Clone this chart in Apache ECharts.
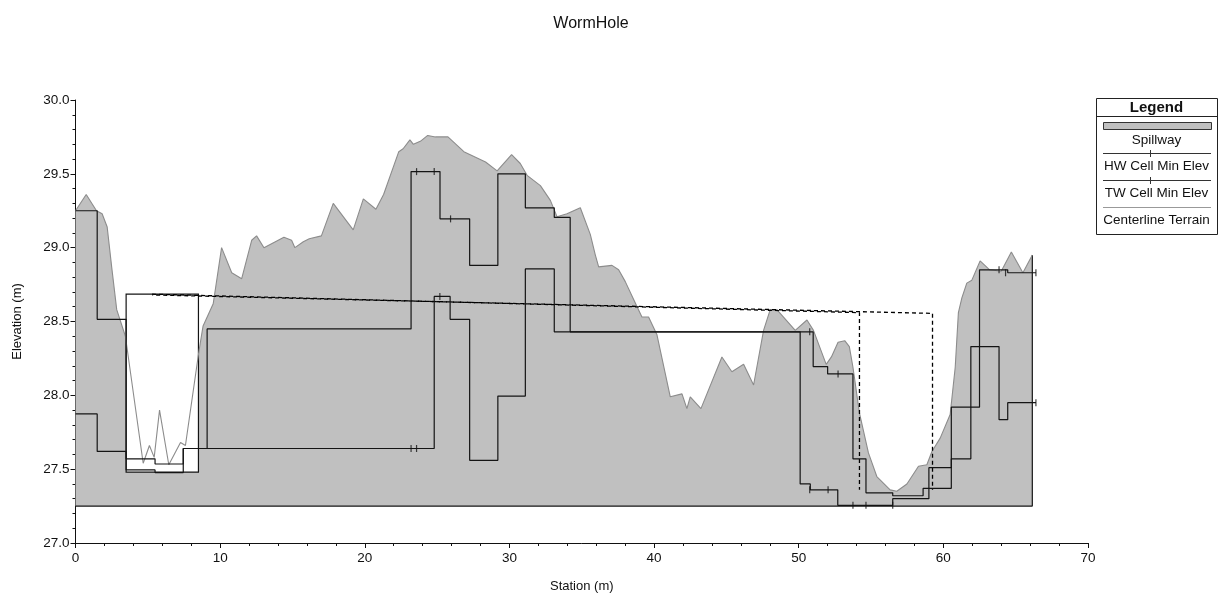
<!DOCTYPE html>
<html>
<head>
<meta charset="utf-8">
<script src="https://cdn.jsdelivr.net/npm/echarts@6/dist/echarts.min.js"></script>
<style>
html,body{margin:0;padding:0;background:#fff;}
#chart{width:1221px;height:594px;}
</style>
</head>
<body>
<div id="chart"></div>
<script>
// ---------------- DATA ----------------
const chartTitle = 'WormHole';
const xAxisName = 'Station (m)';
const yAxisName = 'Elevation (m)';
const seriesNames = ['Spillway', 'HW Cell Min Elev', 'TW Cell Min Elev', 'Centerline Terrain'];

// Centerline terrain (station, elevation)
const terrainStation = [0, 0.74, 1.45, 1.84, 2.19, 2.5, 2.85, 3.45, 4.68, 5.11, 5.44, 5.81, 6.45, 7.26, 7.6, 8.52, 8.82, 9.52,
  10.1, 10.8, 11.49, 12.18, 12.52, 13.03, 14.41, 14.94, 15.17, 15.75, 16.16, 17.0, 17.82, 19.2, 19.9, 20.77, 21.3,
  22.35, 22.65, 23.12, 23.36, 23.84, 24.35, 24.88, 25.75, 26.85, 28.35, 29.15, 30.15, 30.75, 31.22, 32.14, 32.83,
  33.29, 33.98, 34.9, 35.59, 35.94, 36.17, 37.09, 37.55, 38.01, 38.58, 39.16, 39.62, 40.2, 41.12, 41.93, 42.27,
  42.5, 43.24, 44.69, 45.38, 46.19, 46.88, 47.57, 48.03, 48.49, 49.76, 50.57, 51.02, 51.9, 52.26, 52.72, 53.18,
  53.5, 53.75, 54.2, 54.82, 55.4, 56.32, 56.78, 57.48, 58.28, 58.86, 59.21, 59.78, 60.47, 60.82, 61.04, 61.28,
  61.62, 61.97, 62.54, 63.2, 64.0, 64.7, 65.5, 66.15];
const terrainElev = [29.25, 29.36, 29.25, 29.23, 29.14, 28.87, 28.58, 28.40, 27.54, 27.66, 27.58, 27.90, 27.53, 27.68, 27.66, 28.29, 28.47, 28.62,
  29.0, 28.83, 28.79, 29.05, 29.08, 29.0, 29.07, 29.05, 29.0, 29.04, 29.06, 29.08, 29.30, 29.12, 29.33, 29.26, 29.36,
  29.65, 29.67, 29.73, 29.70, 29.72, 29.76, 29.75, 29.75, 29.65, 29.58, 29.52, 29.63, 29.57, 29.49, 29.42, 29.32,
  29.21, 29.23, 29.27, 29.09, 28.95, 28.87, 28.88, 28.85, 28.77, 28.65, 28.53, 28.53, 28.41, 27.99, 28.01, 27.91,
  27.99, 27.91, 28.26, 28.16, 28.21, 28.07, 28.44, 28.58, 28.58, 28.44, 28.51, 28.44, 28.21, 28.26, 28.36, 28.37,
  28.33, 28.19, 27.88, 27.61, 27.45, 27.36, 27.35, 27.40, 27.52, 27.53, 27.62, 27.71, 27.87, 28.19, 28.56, 28.66,
  28.76, 28.78, 28.91, 28.85, 28.84, 28.97, 28.83, 28.95];

// Spillway polygon base
const spillwayBaseElev = 27.25;
const spillwayEndStation = 66.15;

// HW cell minimum elevation steps
const hwStation = [0, 1.5, 1.5, 3.5, 3.5, 5.5, 5.5, 7.45, 7.45, 9.1, 9.1, 23.2, 23.2, 25.2, 25.2, 27.25, 27.25, 29.2, 29.2,
  31.1, 31.1, 33.1, 33.1, 34.2, 34.2, 51.0, 51.0, 52.0, 52.0, 53.75, 53.75, 54.65, 54.65, 56.5, 56.5, 58.6, 58.6,
  60.55, 60.55, 62.5, 62.5, 64.45, 64.45, 66.4];
const hwElev = [29.25, 29.25, 28.515, 28.515, 27.57, 27.57, 27.535, 27.535, 27.64, 27.64, 28.45, 28.45, 29.515, 29.515, 29.195, 29.195, 28.88, 28.88, 29.50,
  29.50, 29.27, 29.27, 29.205, 29.205, 28.43, 28.43, 28.195, 28.195, 28.145, 28.145, 27.57, 27.57, 27.34, 27.34, 27.32, 27.32, 27.37,
  27.37, 27.92, 27.92, 28.85, 28.85, 28.83, 28.83];

// TW cell minimum elevation steps
const twStation = [0, 1.5, 1.5, 3.5, 3.5, 5.5, 5.5, 7.45, 7.45, 24.8, 24.8, 25.9, 25.9, 27.25, 27.25, 29.2, 29.2, 31.1,
  31.1, 33.1, 33.1, 50.1, 50.1, 50.8, 50.8, 52.7, 52.7, 56.5, 56.5, 59.0, 59.0, 60.55, 60.55, 61.9, 61.9, 63.85,
  63.85, 64.45, 64.45, 66.4];
const twElev = [27.874, 27.874, 27.62, 27.62, 27.495, 27.495, 27.477, 27.477, 27.64, 27.64, 28.67, 28.67, 28.515, 28.515, 27.56, 27.56, 27.995, 27.995,
  28.856, 28.856, 28.43, 28.43, 27.40, 27.40, 27.36, 27.36, 27.255, 27.255, 27.30, 27.30, 27.51, 27.51, 27.57, 27.57, 28.33, 28.33,
  27.835, 27.835, 27.95, 27.95];

// tick marks along the cell lines
const hwTickStation = [23.58, 24.8, 25.93, 50.76, 52.72, 63.85, 64.3, 66.4];
const hwTickElev = [29.515, 29.515, 29.195, 28.43, 28.145, 28.85, 28.83, 28.83];
const twTickStation = [23.2, 23.58, 25.19, 50.76, 52.03, 53.75, 54.65, 56.5, 66.4];
const twTickElev = [27.64, 27.64, 28.67, 27.36, 27.36, 27.255, 27.255, 27.255, 27.95];

// culvert opening (white box)
const boxStation = [3.5, 8.5];
const boxElev = [27.48, 28.685];

// dashed outlines
const dashAStation = [5.3, 54.2, 54.2];
const dashAElev = [28.685, 28.56, 27.36];
const dashBStation = [5.3, 59.25, 59.25];
const dashBElev = [28.68, 28.555, 27.36];

// axis ticks
const xMin = 0, xMax = 70, xStep = 10;
const yMin = 27, yMax = 30, yStep = 0.5;

// ---------------- BUILD ----------------
const zip = (a, b) => a.map((v, i) => [v, b[i]]);
const terrainPts = zip(terrainStation, terrainElev);
const spillwayPoly = [[terrainStation[0], spillwayBaseElev]].concat(terrainPts, [[spillwayEndStation, spillwayBaseElev]]);
const boxPoly = [[boxStation[0], boxElev[0]], [boxStation[1], boxElev[0]], [boxStation[1], boxElev[1]], [boxStation[0], boxElev[1]]];

function polySeries(pts, style) {
  return {
    type: 'custom', coordinateSystem: 'cartesian2d', silent: true, data: [[pts[0][0], pts[0][1]]],
    renderItem: (params, api) => ({
      type: 'polygon',
      shape: { points: pts.map(p => api.coord(p)) },
      style: style
    })
  };
}
const lineColor = '#141414';
const FONT = '"Liberation Sans", Arial, sans-serif';
const chart = echarts.init(document.getElementById('chart'), null, { renderer: 'canvas' });

const L = { x0: 1096, x1: 1217, y0: 98, y1: 234 };
const lx0 = 1103, lx1 = 1211, lmid = 1150;
const cx = (L.x0 + L.x1) / 2;
const legendText = (t, y) => ({ type: 'text', style: { text: t, x: cx, y: y, textAlign: 'center', textVerticalAlign: 'middle', font: '13.5px ' + FONT, fill: '#111' } });
const legendGraphics = [
  { type: 'rect', shape: { x: L.x0 + 0.5, y: L.y0 + 0.5, width: L.x1 - L.x0, height: L.y1 - L.y0 }, style: { fill: '#fff', stroke: '#222', lineWidth: 1 } },
  { type: 'text', style: { text: 'Legend', x: cx, y: 107.5, textAlign: 'center', textVerticalAlign: 'middle', font: 'bold 15px ' + FONT, fill: '#111' } },
  { type: 'line', shape: { x1: L.x0, y1: 116.5, x2: L.x1, y2: 116.5 }, style: { stroke: '#222', lineWidth: 1 } },
  { type: 'rect', shape: { x: lx0 + 0.5, y: 122.5, width: lx1 - lx0, height: 7 }, style: { fill: '#c0c0c0', stroke: '#333', lineWidth: 1 } },
  legendText(seriesNames[0], 140),
  { type: 'line', shape: { x1: lx0, y1: 153.5, x2: lx1, y2: 153.5 }, style: { stroke: '#333', lineWidth: 1 } },
  { type: 'line', shape: { x1: lmid + 0.5, y1: 150, x2: lmid + 0.5, y2: 157 }, style: { stroke: '#333', lineWidth: 1 } },
  legendText(seriesNames[1], 166.5),
  { type: 'line', shape: { x1: lx0, y1: 180.5, x2: lx1, y2: 180.5 }, style: { stroke: '#333', lineWidth: 1 } },
  { type: 'line', shape: { x1: lmid + 0.5, y1: 177, x2: lmid + 0.5, y2: 184 }, style: { stroke: '#333', lineWidth: 1 } },
  legendText(seriesNames[2], 193.5),
  { type: 'line', shape: { x1: lx0, y1: 207.5, x2: lx1, y2: 207.5 }, style: { stroke: '#999', lineWidth: 1 } },
  legendText(seriesNames[3], 220.5)
];

const option = {
  animation: false,
  backgroundColor: '#fff',
  title: { text: chartTitle, left: 586, top: 11, textAlign: 'center', textStyle: { fontSize: 16, fontWeight: 'normal', color: '#111', fontFamily: FONT } },
  grid: { left: 75.5, right: 133, top: 100, bottom: 51, containLabel: false, outerBoundsMode: 'none' },
  xAxis: {
    type: 'value', min: xMin, max: xMax, interval: xStep,
    name: xAxisName, nameLocation: 'middle', nameGap: 37,
    nameTextStyle: { fontSize: 13, color: '#111', fontFamily: FONT },
    axisLine: { show: true, lineStyle: { color: '#111', width: 1 } },
    axisTick: { show: true, length: 5, lineStyle: { color: '#111' } },
    minorTick: { show: true, splitNumber: 5, length: 3, lineStyle: { color: '#111' } },
    axisLabel: { fontSize: 13.5, color: '#111', margin: 8, fontFamily: FONT },
    splitLine: { show: false }
  },
  yAxis: {
    type: 'value', min: yMin, max: yMax, interval: yStep,
    name: yAxisName, nameLocation: 'middle', nameGap: 52, nameRotate: 90,
    nameTextStyle: { fontSize: 13, color: '#111', fontFamily: FONT },
    axisLine: { show: true, lineStyle: { color: '#111', width: 1 } },
    axisTick: { show: true, length: 5, lineStyle: { color: '#111' } },
    minorTick: { show: true, splitNumber: 5, length: 3, lineStyle: { color: '#111' } },
    axisLabel: { fontSize: 13.5, color: '#111', margin: 6, formatter: v => v.toFixed(1), fontFamily: FONT },
    splitLine: { show: false }
  },
  graphic: legendGraphics,
  series: [
    Object.assign(polySeries(spillwayPoly, { fill: '#c0c0c0', stroke: null }), { name: seriesNames[0], z: 1 }),
    { type: 'line', name: 'spillway edge', z: 2, silent: true, showSymbol: false,
      data: [[terrainStation[0], spillwayBaseElev], [spillwayEndStation, spillwayBaseElev], [spillwayEndStation, terrainElev[terrainElev.length - 1]]],
      lineStyle: { color: lineColor, width: 1.2 } },
    Object.assign(polySeries(boxPoly, { fill: '#ffffff', stroke: lineColor, lineWidth: 1.2 }), { name: 'culvert', z: 3 }),
    { type: 'line', name: seriesNames[3], z: 4, silent: true, showSymbol: false, data: terrainPts,
      lineStyle: { color: '#8c8c8c', width: 1.1 } },
    { type: 'line', name: 'dashA', z: 5, silent: true, showSymbol: false, data: zip(dashAStation, dashAElev),
      lineStyle: { color: '#000', width: 1.3, type: [4, 3] } },
    { type: 'line', name: 'dashB', z: 5, silent: true, showSymbol: false, data: zip(dashBStation, dashBElev),
      lineStyle: { color: '#000', width: 1.3, type: [4, 3], dashOffset: 3 } },
    { type: 'line', name: seriesNames[1], z: 6, silent: true, showSymbol: false, data: zip(hwStation, hwElev),
      lineStyle: { color: lineColor, width: 1.2 } },
    { type: 'line', name: seriesNames[2], z: 6, silent: true, showSymbol: false, data: zip(twStation, twElev),
      lineStyle: { color: lineColor, width: 1.2 } },
    { type: 'scatter', name: 'hw ticks', z: 7, silent: true, symbol: 'rect', symbolSize: [1.2, 7],
      data: zip(hwTickStation, hwTickElev), itemStyle: { color: lineColor } },
    { type: 'scatter', name: 'tw ticks', z: 7, silent: true, symbol: 'rect', symbolSize: [1.2, 7],
      data: zip(twTickStation, twTickElev), itemStyle: { color: lineColor } }
  ]
};
chart.setOption(option);
</script>
</body>
</html>
